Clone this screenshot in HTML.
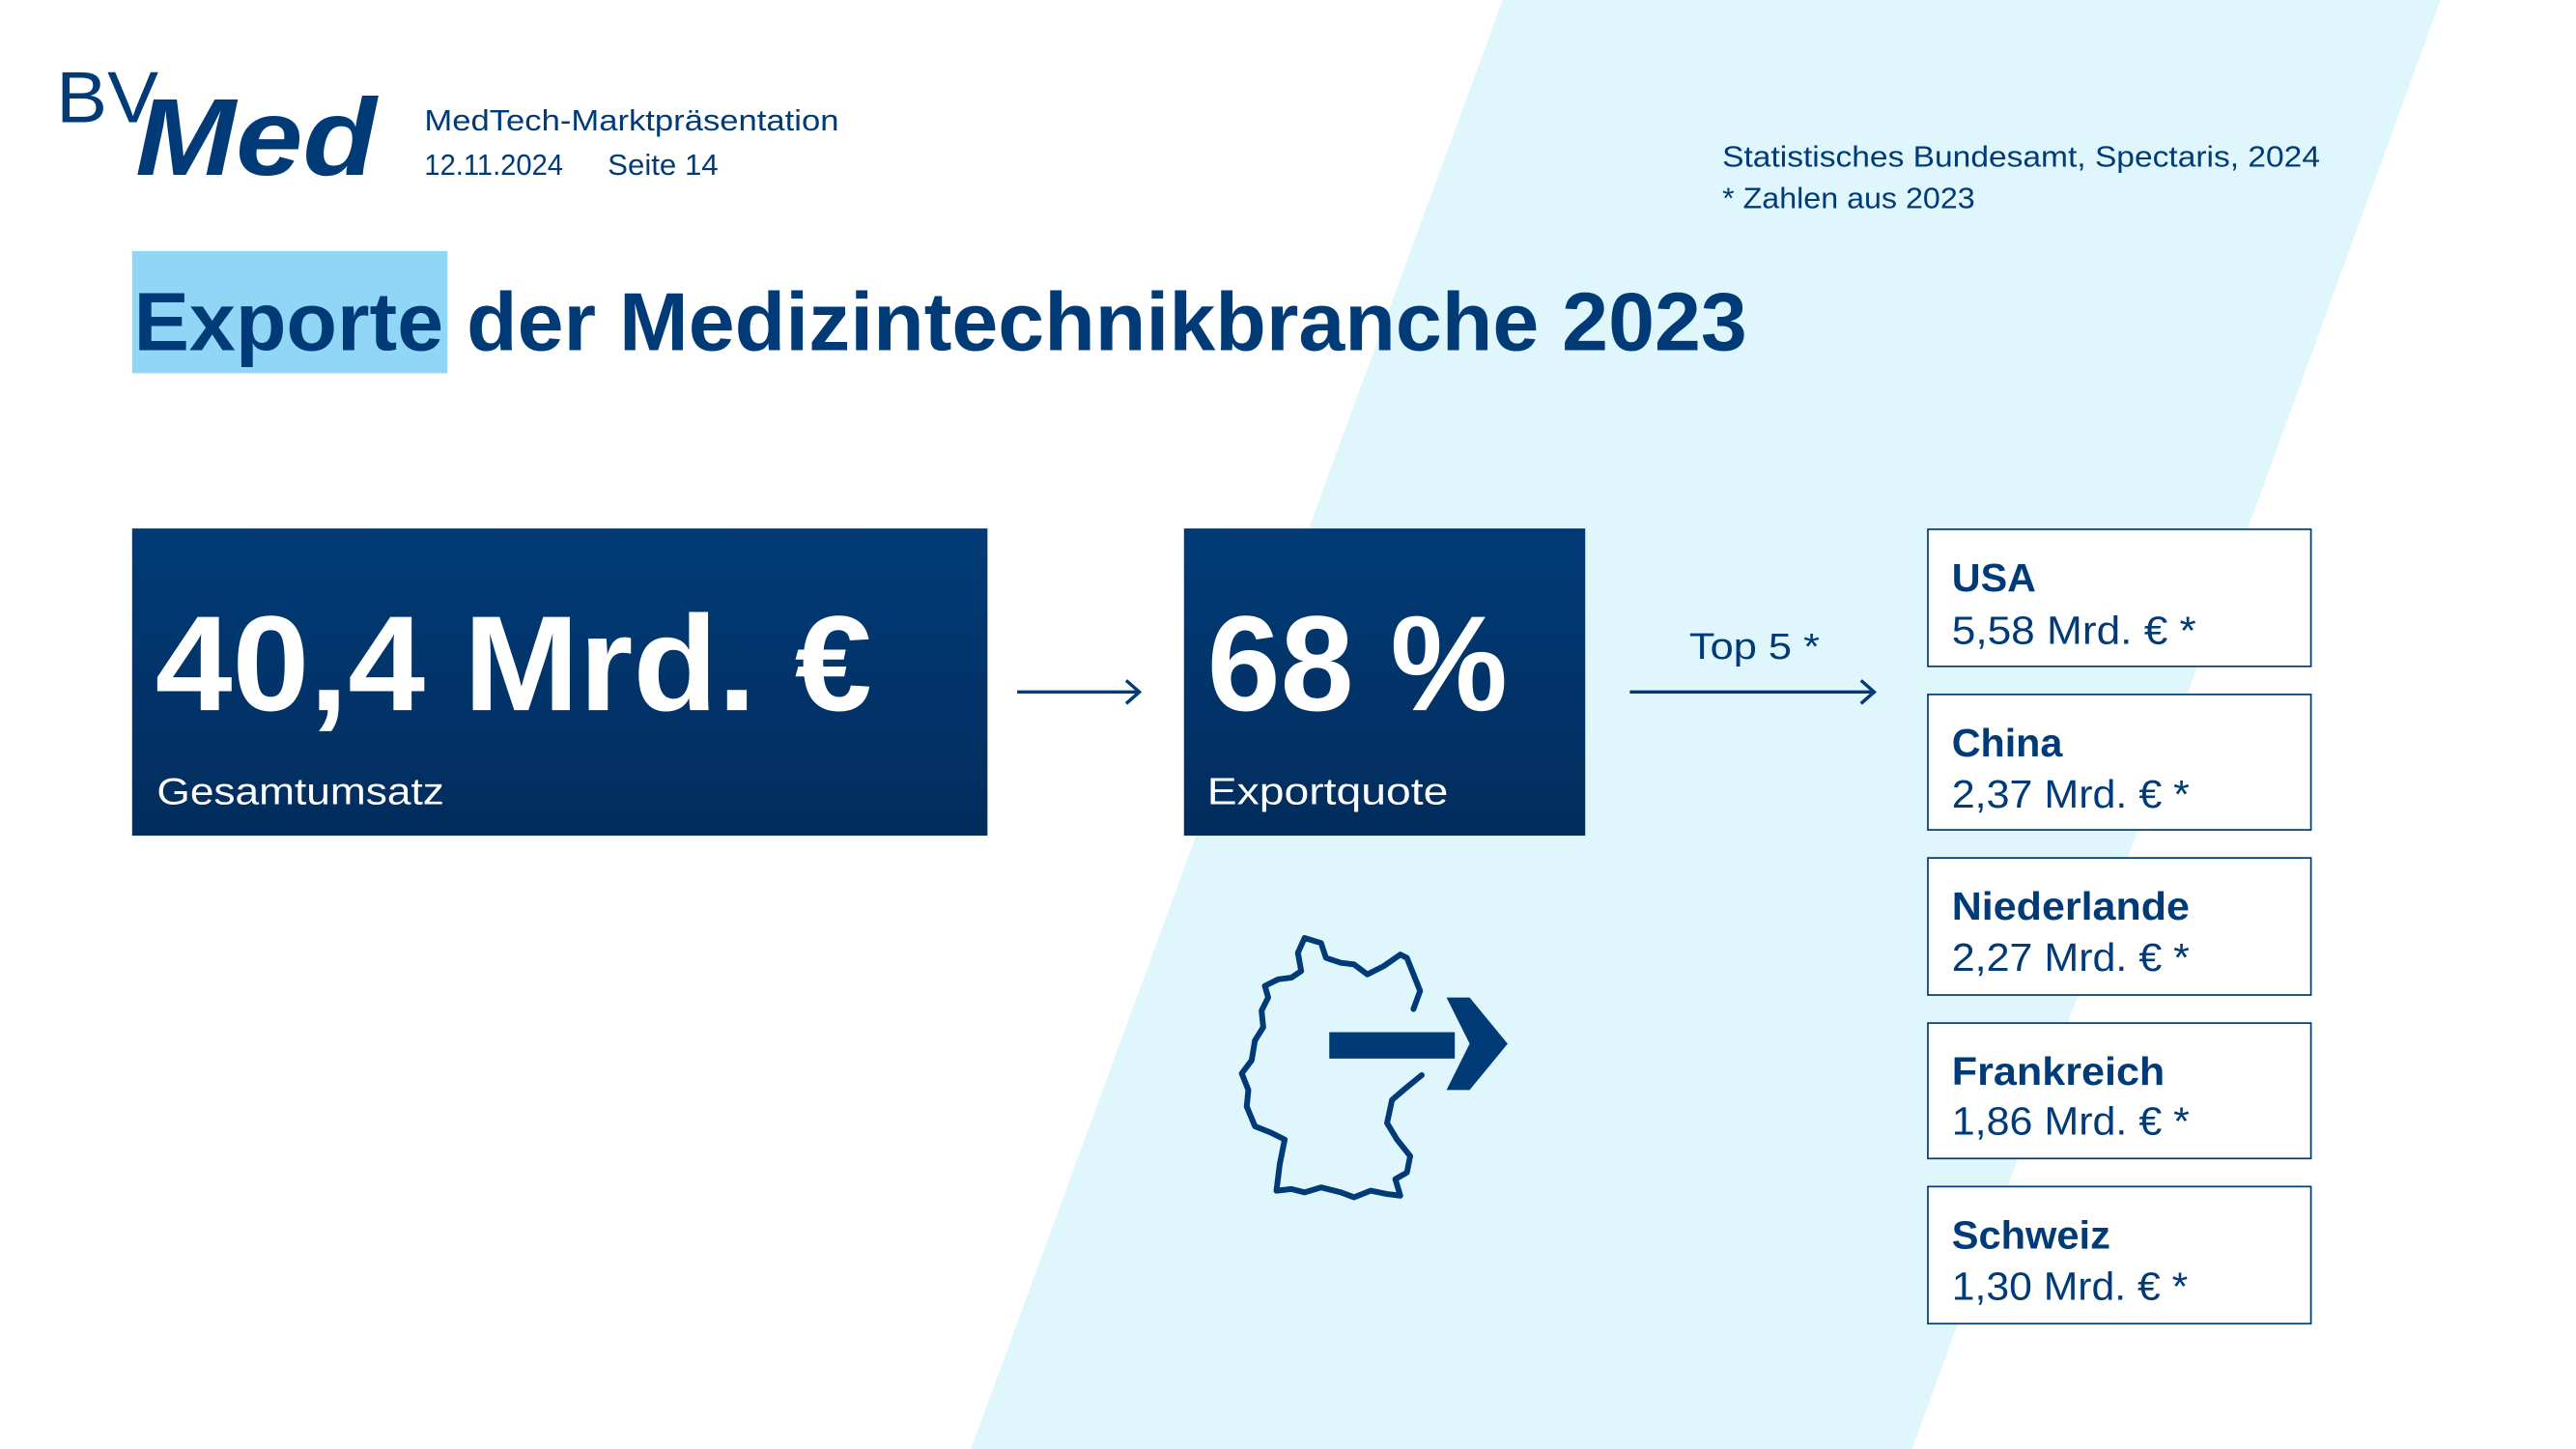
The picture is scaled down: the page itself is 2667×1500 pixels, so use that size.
<!DOCTYPE html>
<html><head><meta charset="utf-8"><style>
html,body{margin:0;padding:0;background:#fff}
svg{display:block}
text{font-family:"Liberation Sans",sans-serif}
</style></head><body>
<svg width="2667" height="1500" viewBox="0 0 1560 877.4" xmlns="http://www.w3.org/2000/svg">
<defs><linearGradient id="g" x1="0" y1="0" x2="0" y2="1"><stop offset="0" stop-color="#013b77"/><stop offset="1" stop-color="#022d5d"/></linearGradient></defs>
<rect width="1560" height="877.4" fill="#fff"/>
<polygon points="910,0 1478,0 1158,877.4 588,877.4" fill="#dff6fd"/>
<!-- logo -->
<text x="34" y="74" font-size="44" fill="#013b77" textLength="62" lengthAdjust="spacingAndGlyphs">BV</text>
<text x="82" y="106" font-size="66" font-weight="bold" font-style="italic" fill="#013b77" textLength="146" lengthAdjust="spacingAndGlyphs">Med</text>
<g fill="#013b77" font-size="18">
<text x="257" y="79" textLength="251" lengthAdjust="spacingAndGlyphs">MedTech-Marktpräsentation</text>
<text x="257" y="106" textLength="84" lengthAdjust="spacingAndGlyphs">12.11.2024</text>
<text x="368" y="106" textLength="67" lengthAdjust="spacingAndGlyphs">Seite 14</text>
<text x="1043" y="101" textLength="362" lengthAdjust="spacingAndGlyphs">Statistisches Bundesamt, Spectaris, 2024</text>
<text x="1043" y="126" textLength="153" lengthAdjust="spacingAndGlyphs">* Zahlen aus 2023</text>
</g>
<rect x="80" y="152" width="191" height="74" fill="#8fd6f7"/>
<text x="81" y="212" font-size="50" font-weight="bold" fill="#013b77" textLength="977" lengthAdjust="spacingAndGlyphs">Exporte der Medizintechnikbranche 2023</text>
<!-- box 1 -->
<rect x="80" y="320" width="518" height="186" fill="url(#g)"/>
<text x="94" y="430" font-size="82" font-weight="bold" fill="#fff" textLength="434" lengthAdjust="spacingAndGlyphs">40,4 Mrd. €</text>
<text x="95" y="487" font-size="23" fill="#fff" textLength="174" lengthAdjust="spacingAndGlyphs">Gesamtumsatz</text>
<line x1="616" y1="419" x2="690" y2="419" stroke="#013b77" stroke-width="2"/>
<polyline points="682,412 690,419 682,426" fill="none" stroke="#013b77" stroke-width="2"/>
<!-- box 2 -->
<rect x="717" y="320" width="243" height="186" fill="url(#g)"/>
<text x="731" y="430" font-size="82" font-weight="bold" fill="#fff" textLength="182" lengthAdjust="spacingAndGlyphs">68 %</text>
<text x="731" y="487" font-size="23" fill="#fff" textLength="146" lengthAdjust="spacingAndGlyphs">Exportquote</text>
<text x="1023" y="399" font-size="22" fill="#013b77" textLength="79" lengthAdjust="spacingAndGlyphs">Top 5 *</text>
<line x1="987" y1="419" x2="1135" y2="419" stroke="#013b77" stroke-width="2"/>
<polyline points="1127,412 1135,419 1127,426" fill="none" stroke="#013b77" stroke-width="2"/>
<!-- country boxes -->
<g fill="#fff" stroke="#013b77" stroke-width="1">
<rect x="1167.5" y="320.5" width="232" height="83"/>
<rect x="1167.5" y="420.5" width="232" height="82"/>
<rect x="1167.5" y="519.5" width="232" height="83"/>
<rect x="1167.5" y="619.5" width="232" height="82"/>
<rect x="1167.5" y="718.5" width="232" height="83"/>
</g>
<g fill="#013b77" font-size="24">
<text x="1182" y="358" font-weight="bold" textLength="51" lengthAdjust="spacingAndGlyphs">USA</text>
<text x="1182" y="390" textLength="148" lengthAdjust="spacingAndGlyphs">5,58 Mrd. € *</text>
<text x="1182" y="458" font-weight="bold" textLength="67" lengthAdjust="spacingAndGlyphs">China</text>
<text x="1182" y="489" textLength="144" lengthAdjust="spacingAndGlyphs">2,37 Mrd. € *</text>
<text x="1182" y="557" font-weight="bold" textLength="144" lengthAdjust="spacingAndGlyphs">Niederlande</text>
<text x="1182" y="588" textLength="144" lengthAdjust="spacingAndGlyphs">2,27 Mrd. € *</text>
<text x="1182" y="657" font-weight="bold" textLength="129" lengthAdjust="spacingAndGlyphs">Frankreich</text>
<text x="1182" y="687" textLength="144" lengthAdjust="spacingAndGlyphs">1,86 Mrd. € *</text>
<text x="1182" y="756" font-weight="bold" textLength="96" lengthAdjust="spacingAndGlyphs">Schweiz</text>
<text x="1182" y="787" textLength="143" lengthAdjust="spacingAndGlyphs">1,30 Mrd. € *</text>
</g>
<!-- germany -->
<path d="M856,611 L860,600 L856,590 L852,580 L848,578 L838,585 L828,590 L820,584 L812,583 L803,580 L800,571 L790,568 L786,577 L788,588 L782,592 L774,593 L766,597 L768,604 L764,612 L765,622 L760,630 L758,642 L752,650 L756,660 L755,670 L760,682 L770,686 L778,690 L775,705 L773,721 L782,720 L790,722 L800,719 L812,722 L820,725 L830,721 L840,723 L848,724 L845,714 L852,710 L854,700 L846,690 L840,680 L843,666 L850,660 L861,651"
 fill="none" stroke="#013b77" stroke-width="3.5" stroke-linejoin="round" stroke-linecap="round"/>
<rect x="805" y="625" width="76" height="16" fill="#013b77"/>
<polygon points="876,604 913,632 876,660 890,632" fill="#013b77"/>
<polygon points="876,604 890,604 913,632 890,660 876,660 898,632" fill="#013b77"/>
</svg>
</body></html>
